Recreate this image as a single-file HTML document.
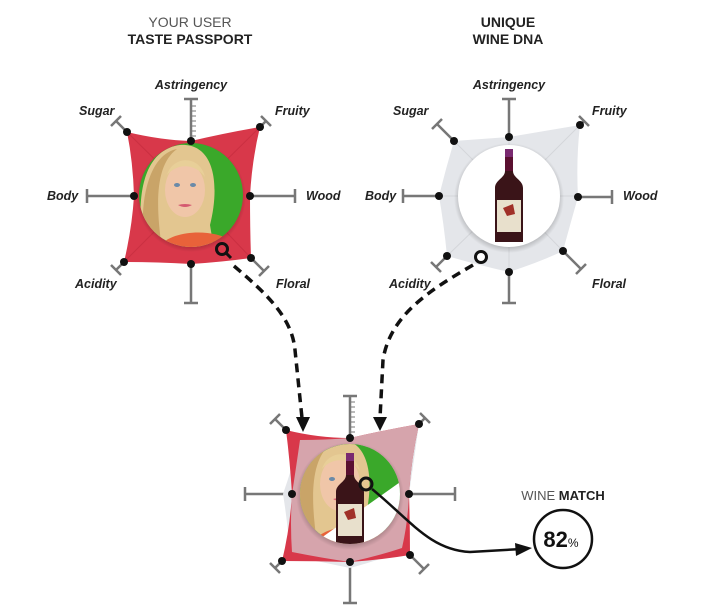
<!DOCTYPE html>
<html><head><meta charset="utf-8"><style>
html,body{margin:0;padding:0;background:#fff;width:726px;height:616px;overflow:hidden}
svg{display:block}
.lab{font-family:"Liberation Sans",sans-serif;font-style:italic;font-weight:bold;font-size:12.5px;fill:#222}
.h{font-family:"Liberation Sans",sans-serif;font-size:14px;text-anchor:middle}
</style></head><body>
<svg width="726" height="616" viewBox="0 0 726 616" xmlns="http://www.w3.org/2000/svg">
<defs>
<clipPath id="c1"><circle cx="191" cy="195" r="52"/></clipPath>
<clipPath id="c2"><circle cx="509" cy="196" r="51"/></clipPath>
<clipPath id="c3"><circle cx="350" cy="494" r="50"/></clipPath>
<radialGradient id="sh" cx="0.5" cy="0.5" r="0.5"><stop offset="0.85" stop-color="#000" stop-opacity="0.25"/><stop offset="1" stop-color="#000" stop-opacity="0"/></radialGradient>
<g id="face">
<rect x="-60" y="-60" width="120" height="120" fill="#3aa82a"/>
<path d="M-40,60 C-50,10 -45,-45 -5,-50 C30,-52 35,-10 25,30 L30,60 Z" fill="#e3c690"/>
<path d="M-38,60 C-48,20 -40,-40 -8,-46 C-30,-30 -30,10 -22,60 Z" fill="#c9a468"/>
<ellipse cx="0" cy="-5" rx="20" ry="27" fill="#f0c6a8"/>
<path d="M-18,-20 C-12,-40 15,-40 20,-18 C10,-32 -8,-32 -18,-20Z" fill="#e8cf98"/>
<ellipse cx="-8" cy="-10" rx="3" ry="2" fill="#6a8aa8"/><ellipse cx="8" cy="-10" rx="3" ry="2" fill="#6a8aa8"/>
<path d="M-7,10 Q0,14 7,10 Q0,8 -7,10Z" fill="#d45a70"/>
<path d="M-30,60 C-25,35 25,32 45,45 L45,60Z" fill="#e8623a"/>
</g>
<g id="bottle">
<rect x="-4" y="-47" width="8" height="22" fill="#5a1030"/>
<rect x="-4" y="-47" width="8" height="8" fill="#7a2a70"/>
<path d="M-4,-25 C-4,-18 -14,-16 -14,-8 L-14,46 L14,46 L14,-8 C14,-16 4,-18 4,-25Z" fill="#3a1418"/>
<rect x="-12" y="4" width="24" height="32" fill="#e8e0cc"/>
<path d="M-6,12 L4,8 L6,18 L-2,20Z" fill="#a03028"/>
</g>
</defs>

<!-- headers -->
<text class="h" x="190" y="27" fill="#555">YOUR USER</text>
<text class="h" x="190" y="44" font-weight="bold" fill="#222">TASTE PASSPORT</text>
<text class="h" x="508" y="27" font-weight="bold" fill="#222">UNIQUE</text>
<text class="h" x="508" y="44" font-weight="bold" fill="#222">WINE DNA</text>

<!-- LEFT CHART -->
<g stroke="#777" stroke-width="2.5" fill="none">
<path d="M191,141 V99 M184,99 H198"/>
<path d="M134,196 H87 M87,189 V203"/>
<path d="M250,196 H295 M295,189 V203"/>
<path d="M191,264 V303 M184,303 H198"/>
<path d="M127,132 L116,121 M111,126 L121,116"/>
<path d="M260,127 L266,121 M261,116 L271,126"/>
<path d="M124,262 L116,270 M111,265 L121,275"/>
<path d="M251,258 L264,271 M269,266 L259,276"/>
</g>
<g stroke="#777" stroke-width="1">
<path d="M191,106h5M191,111h5M191,116h5M191,121h5M191,126h5M191,131h5M191,136h5"/>
</g>
<path d="M127,132 Q160,140 191,141 Q225,133 260,127 Q252,160 250,196 Q250,228 251,258 Q222,262 191,264 Q155,262 124,262 Q132,228 134,196 Q133,162 127,132Z" fill="#d8384a"/>
<path d="M127,132 L191,195 L260,127 M124,262 L191,195 L251,258" stroke="#c22a3c" stroke-width="1" fill="none" opacity="0.6"/>
<circle cx="191" cy="197" r="55" fill="url(#sh)"/>
<g clip-path="url(#c1)"><use href="#face" x="185" y="195"/></g>
<g fill="#111">
<circle cx="191" cy="141" r="4"/><circle cx="260" cy="127" r="4"/><circle cx="250" cy="196" r="4"/><circle cx="251" cy="258" r="4"/>
<circle cx="191" cy="264" r="4"/><circle cx="124" cy="262" r="4"/><circle cx="134" cy="196" r="4"/><circle cx="127" cy="132" r="4"/>
</g>
<circle cx="222" cy="249" r="5.5" fill="none" stroke="#111" stroke-width="3"/>
<path d="M226,253 L231,258" stroke="#111" stroke-width="3"/>

<text class="lab" x="191" y="89" text-anchor="middle">Astringency</text>
<text class="lab" x="79" y="115">Sugar</text>
<text class="lab" x="275" y="115">Fruity</text>
<text class="lab" x="47" y="200">Body</text>
<text class="lab" x="306" y="200">Wood</text>
<text class="lab" x="75" y="288">Acidity</text>
<text class="lab" x="276" y="288">Floral</text>

<!-- RIGHT CHART -->
<g stroke="#777" stroke-width="2.5" fill="none">
<path d="M509,137 V99 M502,99 H516"/>
<path d="M439,196 H403 M403,189 V203"/>
<path d="M578,197 H612 M612,190 V204"/>
<path d="M509,272 V303 M502,303 H516"/>
<path d="M454,141 L437,124 M432,129 L442,119"/>
<path d="M580,125 L584,121 M579,116 L589,126"/>
<path d="M447,256 L436,267 M431,262 L441,272"/>
<path d="M563,251 L581,269 M586,264 L576,274"/>
</g>
<path d="M454,141 L509,137 L580,125 Q576,160 578,197 Q570,225 563,251 Q540,262 509,272 Q478,265 447,256 Q444,225 439,196 Q446,168 454,141Z" fill="#e4e6ea"/>
<path d="M454,141 L509,196 L580,125 M447,256 L509,196 L563,251 M509,137 V272 M439,196 H578" stroke="#d4d6da" stroke-width="1" fill="none"/>
<circle cx="509" cy="198" r="55" fill="url(#sh)"/>
<circle cx="509" cy="196" r="51" fill="#fff"/>
<g clip-path="url(#c2)"><use href="#bottle" x="509" y="196"/></g>
<g fill="#111">
<circle cx="509" cy="137" r="4"/><circle cx="580" cy="125" r="4"/><circle cx="578" cy="197" r="4"/><circle cx="563" cy="251" r="4"/>
<circle cx="509" cy="272" r="4"/><circle cx="447" cy="256" r="4"/><circle cx="439" cy="196" r="4"/><circle cx="454" cy="141" r="4"/>
</g>
<circle cx="481" cy="257" r="5.5" fill="#fff" stroke="#111" stroke-width="3"/>

<text class="lab" x="509" y="89" text-anchor="middle">Astringency</text>
<text class="lab" x="393" y="115">Sugar</text>
<text class="lab" x="592" y="115">Fruity</text>
<text class="lab" x="365" y="200">Body</text>
<text class="lab" x="623" y="200">Wood</text>
<text class="lab" x="389" y="288">Acidity</text>
<text class="lab" x="592" y="288">Floral</text>

<!-- dashed connectors -->
<path d="M234,266 C268,295 292,318 295,350 L302,418" fill="none" stroke="#111" stroke-width="3.5" stroke-dasharray="9,6"/>
<path d="M296,417 L303,432 L310,417Z" fill="#111"/>
<path d="M473,265 C430,290 390,315 383,360 L380,418" fill="none" stroke="#111" stroke-width="3.5" stroke-dasharray="9,6"/>
<path d="M373,417 L380,431 L387,417Z" fill="#111"/>

<!-- BOTTOM CHART -->
<g stroke="#777" stroke-width="2.5" fill="none">
<path d="M350,438 V396 M343,396 H357"/>
<path d="M292,494 H245 M245,487 V501"/>
<path d="M409,494 H455 M455,487 V501"/>
<path d="M350,562 V603 M343,603 H357"/>
<path d="M286,430 L275,419 M270,424 L280,414"/>
<path d="M419,424 L425,418 M420,413 L430,423"/>
<path d="M282,561 L275,568 M270,563 L280,573"/>
<path d="M410,555 L424,569 M429,564 L419,574"/>
</g>
<g stroke="#777" stroke-width="1">
<path d="M350,402h5M350,407h5M350,412h5M350,417h5M350,422h5M350,427h5M350,432h5"/>
</g>
<path d="M300,440 L350,438 L419,424 Q414,460 409,494 Q410,525 405,550 Q380,560 350,568 Q320,562 290,555 Q288,525 283,494 Q292,468 300,440Z" fill="#e4e6ea"/>
<path d="M286,430 Q318,438 350,438 Q385,430 419,424 Q411,460 409,494 Q410,525 410,555 Q380,560 350,562 Q315,561 282,561 Q290,528 292,494 Q290,462 286,430Z" fill="#d8384a"/>
<path d="M300,440 Q325,440 350,438 Q385,430 419,424 Q411,460 409,494 Q408,522 402,548 Q378,556 350,562 Q322,558 292,552 Q290,525 292,494 Q296,468 300,440Z" fill="#d6a4ac"/>
<circle cx="350" cy="496" r="54" fill="url(#sh)"/>
<circle cx="350" cy="494" r="50" fill="#fff"/>
<g clip-path="url(#c3)">
<g clip-path="url(#c3)"><path d="M290,434 L420,434 L420,468 L290,560Z" fill="#3aa82a"/></g>
<svg x="290" y="434" width="130" height="130" overflow="hidden"><path d="M0,0 L130,0 L130,34 L0,126Z" fill="#3aa82a"/><g clip-path="none"><use href="#face" x="50" y="55"/></g><path d="M130,34 L0,126 L0,130 L130,130Z" fill="#fff"/></svg>
<use href="#bottle" x="350" y="500"/>
</g>
<g fill="#111">
<circle cx="350" cy="438" r="4"/><circle cx="419" cy="424" r="4"/><circle cx="409" cy="494" r="4"/><circle cx="410" cy="555" r="4"/>
<circle cx="350" cy="562" r="4"/><circle cx="282" cy="561" r="4"/><circle cx="292" cy="494" r="4"/><circle cx="286" cy="430" r="4"/>
</g>
<path d="M372,489 C410,520 430,550 470,552 L522,549" fill="none" stroke="#111" stroke-width="2.5"/>
<path d="M515,543 L532,548 L516,556Z" fill="#111"/>
<circle cx="366" cy="484" r="6" fill="none" stroke="#111" stroke-width="3"/>

<!-- WINE MATCH -->
<text x="563" y="500" text-anchor="middle" font-family="Liberation Sans,sans-serif" font-size="13" fill="#555">WINE <tspan font-weight="bold" fill="#222">MATCH</tspan></text>
<circle cx="563" cy="539" r="29" fill="#fff" stroke="#111" stroke-width="2.5"/>
<text x="561" y="547" text-anchor="middle" font-family="Liberation Sans,sans-serif" font-size="22" font-weight="bold" fill="#111">82<tspan font-size="12" font-weight="normal">%</tspan></text>
</svg>
</body></html>
